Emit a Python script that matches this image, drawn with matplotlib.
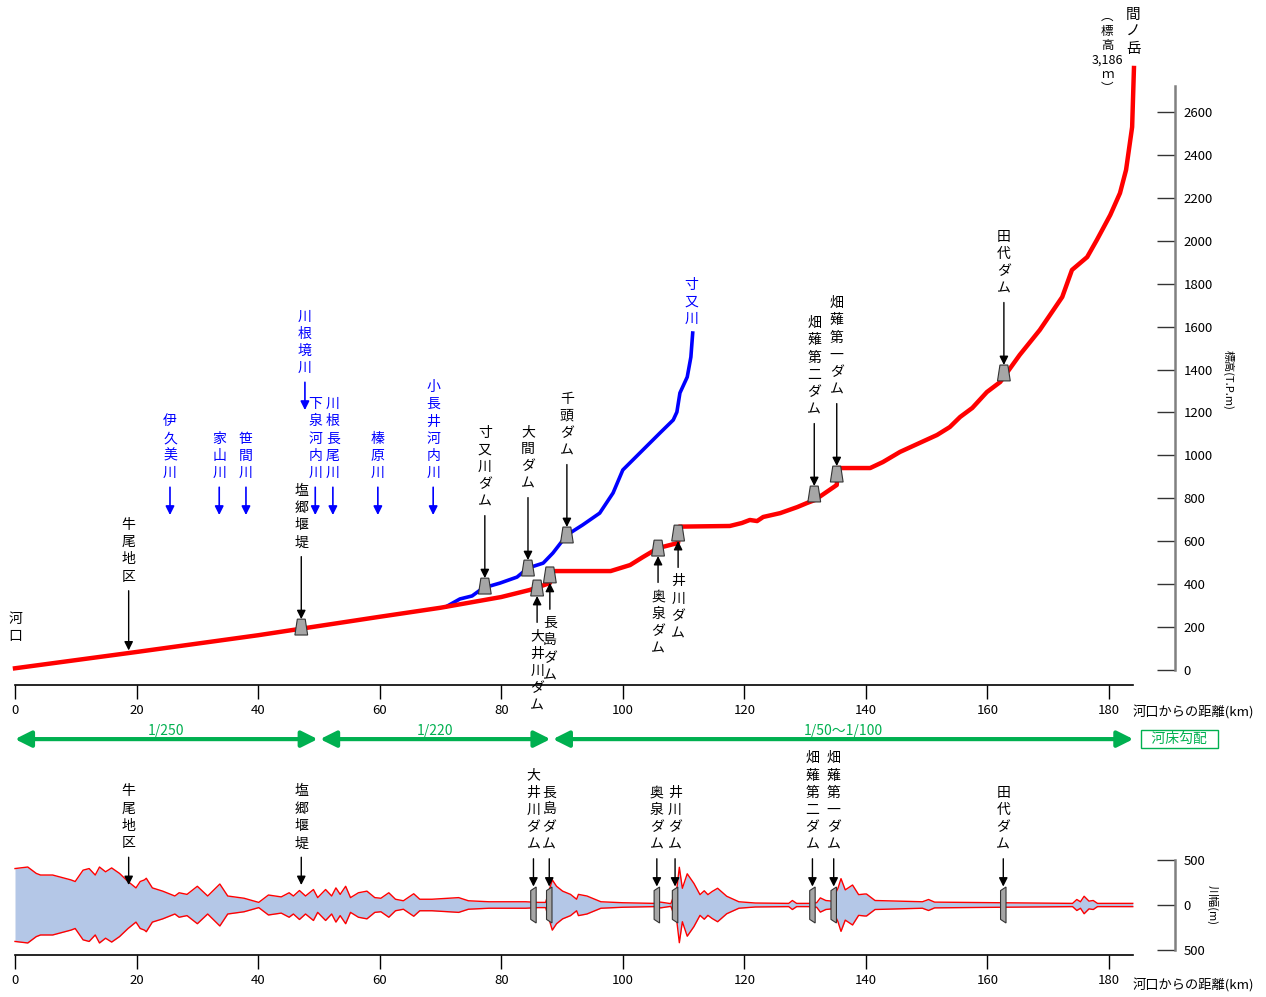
import numpy as np
import matplotlib.pyplot as plt
from matplotlib.patches import Polygon

plt.rcParams['font.family'] = ['Noto Sans CJK JP', 'DejaVu Sans']

# 大井川本川の縦断 (河口からの距離 km, 標高 m)
main_km = [0, 20, 40, 50, 60, 70, 80, 84.7, 88.0, 88.4, 98.0, 101.2, 103.3, 105.8,
           109.1, 109.3, 117.6, 119.6, 120.9, 122.1, 123.1, 125.9, 128.7, 130.3,
           131.6, 135.2, 135.4, 140.7, 142.8, 145.6, 151.7, 153.8, 155.5, 157.5,
           159.9, 162.1, 165.3, 168.6, 172.3, 173.9, 176.4, 178.0, 180.2, 181.8,
           182.8, 183.8, 184.1]
main_elev = [8, 84, 162, 205, 248, 290, 340, 373, 405, 461, 461, 489, 526, 568,
             592, 668, 671, 685, 699, 694, 713, 731, 759, 778,
             792, 862, 941, 941, 969, 1016, 1095, 1132, 1179, 1221,
             1295, 1342, 1468, 1584, 1738, 1864, 1924, 2004, 2120, 2222,
             2330, 2530, 2805]

# 寸又川
sumata_km = [71.0, 73.2, 75.2, 77.0, 79.8, 82.6, 84.4, 86.9, 88.5, 90.8, 93.4,
             96.2, 98.4, 100.0, 102.8, 106.1, 108.3, 108.9, 109.4, 110.6, 111.2, 111.5]
sumata_elev = [296, 331, 345, 382, 405, 433, 475, 498, 545, 629, 676,
               731, 825, 932, 1011, 1104, 1165, 1202, 1291, 1365, 1458, 1570]

# ダム・堰堤
dam_names = ['塩郷堰堤', '寸又川ダム', '大間ダム', '千頭ダム', '大井川ダム', '長島ダム',
             '奥泉ダム', '井川ダム', '畑薙第二ダム', '畑薙第一ダム', '田代ダム']
dam_km = [47.1, 77.3, 84.4, 90.8, 85.9, 88.0, 105.8, 109.1, 131.5, 135.2, 162.7]
dam_elev = [200, 391, 475, 629, 382, 443, 568, 638, 820, 913, 1384]
dam_side = ['up', 'up', 'up', 'up', 'down', 'down', 'down', 'down', 'up', 'up', 'up']

# 支川合流点
trib_names = ['伊久美川', '家山川', '笹間川', '川根境川', '下泉河内川', '川根長尾川',
              '榛原川', '小長井河内川']
trib_km = [25.5, 33.6, 38.0, 47.7, 49.4, 52.3, 59.7, 68.8]
trib_tip = [722, 722, 722, 1211, 722, 722, 722, 722]

# 河床勾配
grad_start = [0, 50.2, 88.5]
grad_end = [49.8, 88.1, 184.0]
grad_labels = ['1/250', '1/220', '1/50～1/100']

# 川幅 (m)
width_km = [0, 2.1, 3.5, 4.2, 6.2, 9.2, 9.9, 11.2, 12.2, 13.2, 13.9, 14.9, 15.9,
            17.2, 18.6, 19.9, 20.6, 21.3, 21.6, 22.6, 24.3, 26.3, 27.0, 28.3,
            30.0, 31.7, 33.7, 35.0, 37.7, 40.1, 41.7, 43.8, 45.1, 45.8, 46.8,
            47.8, 49.1, 49.8, 51.1, 52.1, 52.8, 53.5, 54.4, 55.2, 56.5, 57.9,
            59.2, 60.2, 61.5, 62.6, 63.9, 65.6, 66.6, 68.6, 73.0, 74.6, 78.0,
            84.0, 86.0, 87.3, 88.4, 89.1, 90.1, 91.4, 92.4, 92.7, 94.1, 96.4,
            100.0, 105.2, 106.2, 107.9, 108.9, 109.3, 109.8, 110.6, 111.7,
            112.7, 113.4, 114.0, 114.7, 115.6, 117.1, 119.1, 121.8, 127.3,
            127.9, 128.6, 130.6, 131.9, 132.5, 133.4, 134.4, 135.4, 135.9,
            136.6, 137.8, 138.8, 139.8, 140.1, 141.5, 149.3, 150.3, 151.3,
            162.2, 174.0, 174.7, 175.3, 175.9, 176.7, 177.4, 178.1, 183.9]
width_m = [810, 844, 702, 666, 666, 558, 522, 774, 810, 666, 844, 738, 824,
           702, 522, 380, 522, 558, 594, 380, 308, 200, 272, 236,
           416, 200, 466, 200, 150, 58, 222, 180, 272, 200, 322,
           200, 344, 164, 344, 200, 380, 236, 416, 164, 272, 308,
           164, 150, 272, 128, 94, 250, 128, 128, 164, 94, 72,
           72, 58, 58, 558, 416, 308, 236, 128, 236, 200, 72,
           50, 36, 64, 30, 372, 838, 372, 694, 480,
           230, 316, 230, 300, 372, 194, 72, 44, 36,
           100, 36, 36, 50, 158, 100, 86, 372, 586,
           336, 444, 230, 244, 244, 100, 72, 122, 64,
           50, 36, 122, 72, 194, 86, 100, 36, 36]

width_dam_names = ['大井川ダム', '長島ダム', '奥泉ダム', '井川ダム',
                   '畑薙第二ダム', '畑薙第一ダム', '田代ダム']
width_dam_km = [85.3, 87.9, 105.6, 108.6, 131.2, 134.7, 162.6]
width_marks = ['牛尾地区', '塩郷堰堤']
width_marks_km = [18.7, 47.1]

RED = '#ff0000'
BLUE = '#0000ff'
GREEN = '#00b050'
DAM_FC = '#a6a6a6'


def vert(s):
    return '\n'.join(s)


fig = plt.figure(figsize=(12.66, 9.97), dpi=100)

# ---- 縦断図 ----
ax = fig.add_axes([0, 1 - 760 / 997, 1, 760 / 997])
kx = 6.078   # px per km
ky = 0.21462  # px per m
ax.set_xlim(-15 / kx, (1266 - 15) / kx)
ax.set_ylim((670 - 760) / ky, 670 / ky)

for s in ['top', 'left']:
    ax.spines[s].set_visible(False)
ax.spines['bottom'].set_position(('data', -70))
ax.spines['bottom'].set_bounds(0, 184)
ax.spines['bottom'].set_linewidth(1.2)
ax.spines['right'].set_position(('data', 190.85))
ax.spines['right'].set_bounds(0, 2720)
ax.spines['right'].set_color('#808080')
ax.spines['right'].set_linewidth(1.8)
ax.set_xticks(range(0, 181, 20))
ax.set_yticks(range(0, 2601, 200))
ax.tick_params(axis='x', direction='out', length=10, width=1, pad=4, labelsize=9.5)
ax.tick_params(axis='y', which='both', left=False, right=True, labelleft=False,
               labelright=True, direction='in', length=13, width=1, color='#333333',
               pad=6, labelsize=9.5)

ax.plot(main_km, main_elev, color=RED, lw=3.2, solid_joinstyle='round', zorder=3)
ax.plot(sumata_km, sumata_elev, color=BLUE, lw=2.6, solid_joinstyle='round', zorder=2)

arrow_k = dict(arrowstyle='-|>', color='black', lw=1, mutation_scale=13,
               shrinkA=3, shrinkB=0)
arrow_b = dict(arrowstyle='-|>', color=BLUE, lw=1.2, mutation_scale=13,
               shrinkA=3, shrinkB=0)

for name, k, e, side in zip(dam_names, dam_km, dam_elev, dam_side):
    ax.add_patch(Polygon([(k - 1.05, e - 37), (k + 1.05, e - 37),
                          (k + 0.65, e + 37), (k - 0.65, e + 37)],
                         closed=True, fc=DAM_FC, ec='#333333', lw=0.8, zorder=5))
    if side == 'up':
        ax.annotate(vert(name), xy=(k, e + 37), xytext=(0, 50), textcoords='offset points',
                    ha='center', va='bottom', fontsize=10, linespacing=1.3,
                    arrowprops=arrow_k, zorder=6)
    else:
        ax.annotate(vert(name), xy=(k, e - 37), xytext=(0, -24), textcoords='offset points',
                    ha='center', va='top', fontsize=10, linespacing=1.3,
                    arrowprops=arrow_k, zorder=6)

# 牛尾地区
ushio_e = np.interp(18.7, main_km, main_elev)
ax.annotate(vert('牛尾地区'), xy=(18.7, ushio_e + 12), xytext=(0, 48),
            textcoords='offset points', ha='center', va='bottom', fontsize=10,
            linespacing=1.3, arrowprops=arrow_k)
ax.text(0, 270, vert('河口'), ha='center', va='top', fontsize=10, linespacing=1.3)

for name, k, tip in zip(trib_names, trib_km, trib_tip):
    ax.annotate(vert(name), xy=(k, tip), xytext=(0, 25), textcoords='offset points',
                ha='center', va='bottom', fontsize=10, linespacing=1.3,
                color=BLUE, arrowprops=arrow_b)

ax.annotate(vert('寸又川'), xy=(sumata_km[-1], sumata_elev[-1]), xytext=(-1, 5),
            textcoords='offset points', ha='center', va='bottom', fontsize=10,
            linespacing=1.3, color=BLUE)

ax.text(main_km[-1] - 0.1, 3085, vert('間ノ岳'), ha='center', va='top', fontsize=10.5,
        linespacing=1.3)
ax.text(179.7, 3075, '︵\n標\n高\n3,186\nｍ\n︶', ha='center', va='top', fontsize=9,
        linespacing=1.15)

ax.text(183.9, -196, '河口からの距離(km)', ha='left', va='center', fontsize=9.5)
ax.text(199.6, 1351, '標高(T.P.m)', ha='center', va='center', fontsize=8, rotation=-90)

# 河床勾配
for a, b, lab in zip(grad_start, grad_end, grad_labels):
    ax.annotate('', xy=(b, -322), xytext=(a, -322),
                arrowprops=dict(arrowstyle='<|-|>', color=GREEN, lw=3,
                                mutation_scale=24, shrinkA=0, shrinkB=0))
    ax.text((a + b) / 2, -315, lab, ha='center', va='bottom', fontsize=10, color=GREEN)
ax.text(191.6, -322, '   河床勾配   ', ha='center', va='center', fontsize=10, color=GREEN,
        bbox=dict(boxstyle='square,pad=0.12', fc='white', ec=GREEN, lw=1))

# ---- 川幅 ----
ax2 = fig.add_axes([0, 0, 1, 237 / 997])
wy = 0.09  # px per m
ax2.set_xlim(-15 / kx, (1266 - 15) / kx)
ax2.set_ylim((905 - 997) / wy, (905 - 760) / wy)
for s in ['top', 'left']:
    ax2.spines[s].set_visible(False)
ax2.spines['bottom'].set_position(('data', -556))
ax2.spines['bottom'].set_bounds(0, 184)
ax2.spines['bottom'].set_linewidth(1.2)
ax2.spines['right'].set_position(('data', 190.85))
ax2.spines['right'].set_bounds(-500, 500)
ax2.spines['right'].set_color('#808080')
ax2.spines['right'].set_linewidth(1.8)
ax2.set_xticks(range(0, 181, 20))
ax2.set_yticks([-500, 0, 500])
ax2.set_yticklabels(['500', '0', '500'])
ax2.tick_params(axis='x', direction='out', length=10, width=1, pad=4, labelsize=9.5)
ax2.tick_params(axis='y', left=False, right=True, labelleft=False, labelright=True,
                direction='in', length=13, width=1, color='#333333', pad=6, labelsize=9.5)

wk = np.array(width_km)
half = np.array(width_m) / 2
ax2.fill_between(wk, -half, half, color='#b4c7e7', lw=0, zorder=1)
ax2.plot(wk, half, color=RED, lw=1, zorder=2)
ax2.plot(wk, -half, color=RED, lw=1, zorder=2)

for name, k in zip(width_dam_names, width_dam_km):
    ax2.add_patch(Polygon([(k - 0.45, -160), (k - 0.45, 160), (k + 0.45, 200), (k + 0.45, -200)],
                          closed=True, fc=DAM_FC, ec='#333333', lw=0.8, zorder=5))
    ax2.annotate(vert(name), xy=(k, 205), xytext=(0, 25), textcoords='offset points',
                 ha='center', va='bottom', fontsize=10, linespacing=1.3,
                 arrowprops=arrow_k, zorder=6)
for name, k in zip(width_marks, width_marks_km):
    ax2.annotate(vert(name), xy=(k, 222), xytext=(0, 25), textcoords='offset points',
                 ha='center', va='bottom', fontsize=10, linespacing=1.3,
                 arrowprops=arrow_k, zorder=6)

ax2.text(183.9, -889, '河口からの距離(km)', ha='left', va='center', fontsize=9.5)
ax2.text(196.9, 0, '川幅(m)', ha='center', va='center', fontsize=8, rotation=-90)

fig.savefig('out.png', dpi=100)
